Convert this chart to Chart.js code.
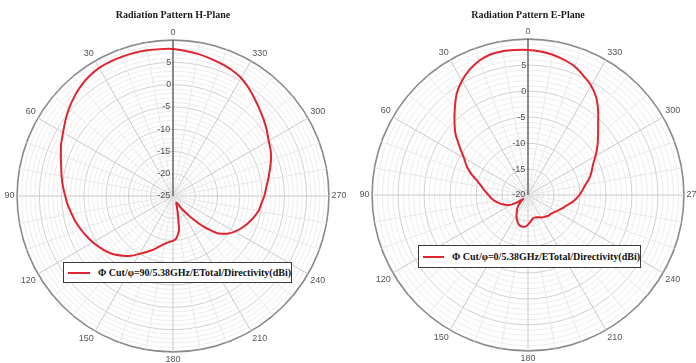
<!DOCTYPE html>
<html>
<head>
<meta charset="utf-8">
<script src="https://cdn.jsdelivr.net/npm/chart.js@4.4.1/dist/chart.umd.min.js"></script>
<style>
  html, body { margin: 0; padding: 0; width: 696px; height: 363px; overflow: hidden; background: #ffffff; }
  #wrap { position: relative; width: 696px; height: 363px; overflow: hidden; }
  canvas { position: absolute; top: 0; }
  #c1 { left: -10px; }
  #c2 { left: 345px; }
  .lg { position: absolute; display: flex; align-items: center; box-sizing: border-box;
        border: 1px solid #3a3a3a; background: #ffffff; padding-left: 4px;
        font: bold 10px 'Liberation Serif', 'Times New Roman', serif; color: #111; white-space: nowrap; z-index: 5; }
  .lg .sw { display: inline-block; width: 24px; height: 2px; margin-right: 8px; }
  #lg1 { left: 63px; top: 262px; width: 229px; height: 21px; }
  #lg2 { left: 418px; top: 245px; width: 223px; height: 23px; }
</style>
</head>
<body>
<div id="wrap">
  <canvas id="c1" width="366" height="366"></canvas>
  <canvas id="c2" width="366" height="365"></canvas>
  <div id="lg1" class="lg"></div>
  <div id="lg2" class="lg"></div>
</div>
<script>
// Angles (degrees, counter-clockwise from the top as in the reference)
const angles = [0,5,10,15,20,25,30,35,40,45,50,55,60,65,70,75,80,85,90,95,100,105,110,115,
  120,125,130,135,140,145,150,155,160,165,170,175,180,185,190,195,200,205,210,215,220,225,230,235,
  240,245,250,255,260,265,270,275,280,285,290,295,300,305,310,315,320,325,330,335,340,345,350,355];

// H-plane directivity (dBi)
const hPlane = [8.0,8.1,8.2,8.3,8.3,8.3,8.2,7.8,7.2,6.4,5.5,4.5,3.5,2.7,1.8,1.0,0.4,-0.2,-0.8,-1.3,-1.9,-2.4,-3.0,-3.6,
  -4.2,-4.9,-5.6,-6.4,-7.5,-8.6,-10.0,-11.2,-12.2,-13.3,-14.1,-14.6,-14.9,-15.6,-17.2,-20.8,-22.5,-23.3,-23.2,-21.3,-18.8,-15.3,-12.0,-10.2,
  -9.0,-8.0,-7.1,-6.3,-5.5,-5.1,-4.5,-4.0,-3.3,-2.5,-1.6,-0.8,-0.2,0.7,1.6,2.5,3.5,4.6,5.6,6.2,6.6,7.0,7.4,7.7];

// E-plane directivity (dBi)
const ePlane = [7.9,8.0,8.1,8.0,7.5,6.6,5.4,3.9,1.9,0.0,-1.8,-4.0,-5.8,-7.0,-8.5,-10.0,-11.0,-11.7,-12.4,-12.9,-13.5,-14.1,-14.8,-15.5,
  -16.3,-17.6,-18.8,-17.8,-16.8,-16.3,-15.6,-14.9,-14.3,-13.9,-13.8,-13.9,-14.3,-14.8,-15.3,-15.5,-15.4,-15.3,-15.0,-14.8,-14.6,-14.4,-14.3,-14.1,
  -13.7,-13.3,-12.8,-12.3,-11.5,-10.8,-10.1,-9.5,-8.8,-7.8,-7.0,-6.2,-5.0,-3.7,-2.4,-0.9,1.0,2.9,4.3,5.3,6.3,6.9,7.4,7.7];

const hRange = { min: -25, max: 10 };
const eRange = { min: -20, max: 10 };

const hTitle = 'Radiation Pattern H-Plane';
const eTitle = 'Radiation Pattern E-Plane';
const hLabel = 'Φ Cut/φ=90/5.38GHz/ETotal/Directivity(dBi)';
const eLabel = 'Φ Cut/φ=0/5.38GHz/ETotal/Directivity(dBi)';

const RED = '#df2530';
const SANS = "'Liberation Sans', Arial, sans-serif";

const htmlLegend = {
  id: 'htmlLegend',
  afterUpdate(chart, args, opts) {
    const box = document.getElementById(opts.containerID);
    if (!box) return;
    box.innerHTML = '';
    chart.data.datasets.forEach(ds => {
      const sw = document.createElement('span');
      sw.className = 'sw';
      sw.style.background = ds.borderColor;
      const tx = document.createElement('span');
      tx.textContent = ds.label;
      box.appendChild(sw);
      box.appendChild(tx);
    });
  }
};

function makeChart(id, title, values, range, label, legendId, titlePad) {
  // radar runs clockwise; reverse order so angles increase counter-clockwise
  const n = angles.length;
  const chartLabels = [];
  const chartData = [];
  for (let i = 0; i < n; i++) {
    const k = (n - i) % n;
    chartLabels.push(angles[k]);
    chartData.push(values[k]);
  }
  return new Chart(document.getElementById(id), {
    type: 'radar',
    data: {
      labels: chartLabels,
      datasets: [{
        label: label,
        data: chartData,
        borderColor: RED,
        backgroundColor: 'rgba(0,0,0,0)',
        borderWidth: 2,
        fill: false,
        pointRadius: 0,
        pointHoverRadius: 0,
        pointHitRadius: 0,
        tension: 0.15
      }]
    },
    plugins: [htmlLegend],
    options: {
      responsive: false,
      animation: false,
      events: [],
      layout: { padding: 0 },
      plugins: {
        legend: { display: false },
        tooltip: { enabled: false },
        htmlLegend: { containerID: legendId },
        title: {
          display: true,
          text: title,
          color: '#1a1a1a',
          font: { family: "'Liberation Serif', 'Times New Roman', serif", size: 10, weight: 'bold' },
          padding: titlePad
        }
      },
      scales: {
        r: {
          min: range.min,
          max: range.max,
          beginAtZero: false,
          startAngle: 0,
          ticks: {
            count: range.max - range.min + 1,
            autoSkip: false,
            showLabelBackdrop: false,
            backdropPadding: 0,
            color: '#505050',
            font: { family: SANS, size: 9 },
            callback: (v) => {
              const r = Math.round(v);
              if (r % 5 === 0 && r < range.max) {
                const s = String(r);
                return s + '\u2007'.repeat(s.length) + '\u2009\u2009';
              }
              return '';
            }
          },
          grid: {
            circular: true,
            color: (ctx) => {
              const v = ctx.tick ? Math.round(ctx.tick.value) : 0;
              if (v === range.max) return '#8a8a8a';
              if (v % 5 === 0) return '#d0d0d0';
              return '#ededed';
            },
            lineWidth: (ctx) => {
              const v = ctx.tick ? Math.round(ctx.tick.value) : 0;
              return v === range.max ? 1.6 : 1;
            }
          },
          angleLines: {
            display: true,
            color: (ctx) => {
              const a = chartLabels[ctx.index];
              if (a === 0) return '#5a5a5a';
              if (a % 30 === 0) return '#cacaca';
              if (a % 10 === 0) return '#e8e8e8';
              return 'rgba(0,0,0,0)';
            },
            lineWidth: (ctx) => {
              const a = chartLabels[ctx.index];
              if (a === 0) return 1.4;
              if (a % 10 === 0) return 1;
              return 0;
            }
          },
          pointLabels: {
            display: true,
            padding: -2,
            color: '#555555',
            font: { family: SANS, size: 9 },
            callback: (lab) => (lab % 30 === 0 ? String(lab) : '')
          }
        }
      }
    }
  });
}

makeChart('c1', hTitle, hPlane, hRange, hLabel, 'lg1', { top: 9, bottom: 5.8 });
makeChart('c2', eTitle, ePlane, eRange, eLabel, 'lg2', { top: 9, bottom: 4.8 });
</script>
</body>
</html>
